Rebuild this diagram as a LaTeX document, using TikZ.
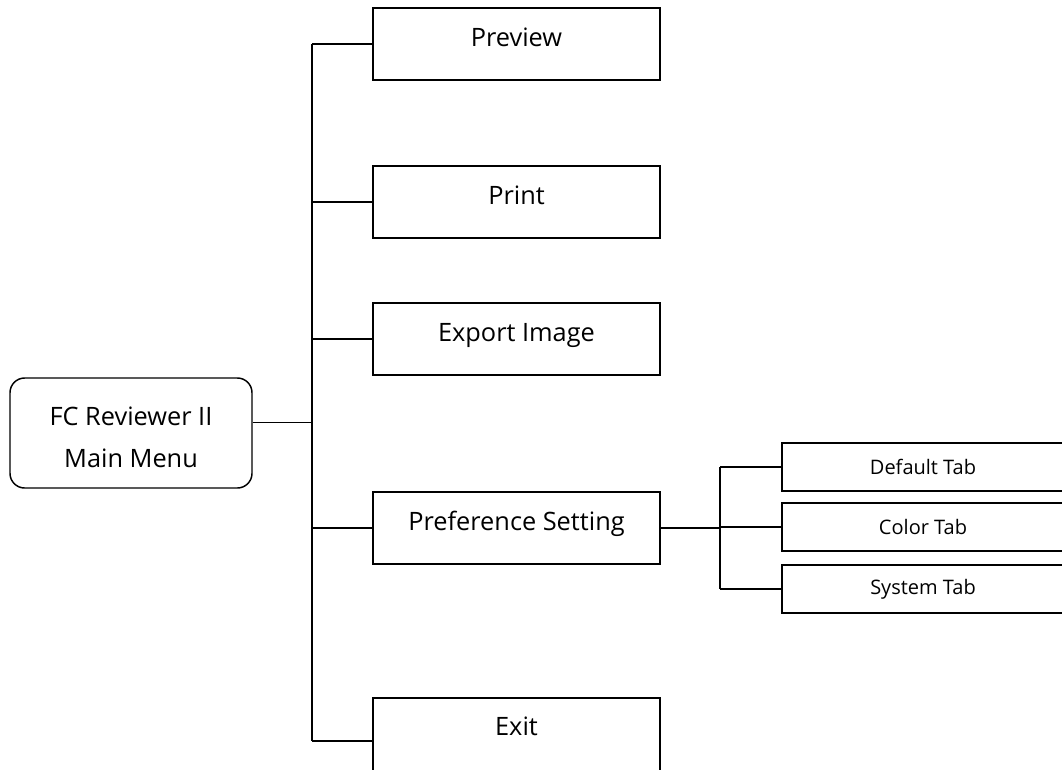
\documentclass[tikz,border=0pt]{standalone}
\usepackage{fontspec}
\setmainfont{Open Sans}
\begin{document}
\begin{tikzpicture}[
    x=0.75pt, y=-0.75pt, line width=1.1pt,
    rootbox/.style={draw, rounded corners=11pt, minimum width=181.5pt, minimum height=82.5pt,
        align=center, font=\fontsize{19}{32}\selectfont, text height=52pt, text depth=0pt},
    menubox/.style={draw, minimum width=215.25pt, minimum height=54pt,
        font=\fontsize{19}{23}\selectfont, text height=14pt, text depth=10.5pt},
    tabbox/.style={draw, minimum width=211.5pt, minimum height=36pt,
        font=\fontsize{15}{18}\selectfont}
]
    \useasboundingbox (0,0) rectangle (1062,769);

    \node[rootbox] (menu) at (131,433) {FC Reviewer II\\Main Menu};

    \node[menubox] (preview) at (516.5,44) {Preview};
    \node[menubox] (print) at (516.5,202) {Print};
    \node[menubox] (export) at (516.5,339) {Export Image};
    \node[menubox] (pref) at (516.5,528) {Preference Setting};
    \node[menubox, minimum height=64.5pt, text depth=22.5pt] (exit) at (516.5,741) {Exit};

    \node[tabbox] (deftab) at (923,467) {Default Tab};
    \node[tabbox] (coltab) at (923,527) {Color Tab};
    \node[tabbox] (systab) at (923,589) {System Tab};

    % main trunk
    \coordinate (trunk) at (312,422);
    \coordinate (subtrunk) at (720,528);
    \coordinate (menuout) at ([yshift=8pt]menu.east);
    \draw (trunk |- preview.west) -- (trunk |- exit.west);
    \draw (menuout) -- (menuout -| trunk);
    \draw (preview.west) -- (preview.west -| trunk);
    \draw (print.west) -- (print.west -| trunk);
    \draw (export.west) -- (export.west -| trunk);
    \draw (pref.west) -- (pref.west -| trunk);
    \draw (exit.west) -- (exit.west -| trunk);

    % tabs
    \draw (subtrunk |- deftab.west) -- (subtrunk |- systab.west);
    \draw (pref.east) -- (pref.east -| subtrunk);
    \draw (deftab.west) -- (deftab.west -| subtrunk);
    \draw (coltab.west) -- (coltab.west -| subtrunk);
    \draw (systab.west) -- (systab.west -| subtrunk);
\end{tikzpicture}
\end{document}
